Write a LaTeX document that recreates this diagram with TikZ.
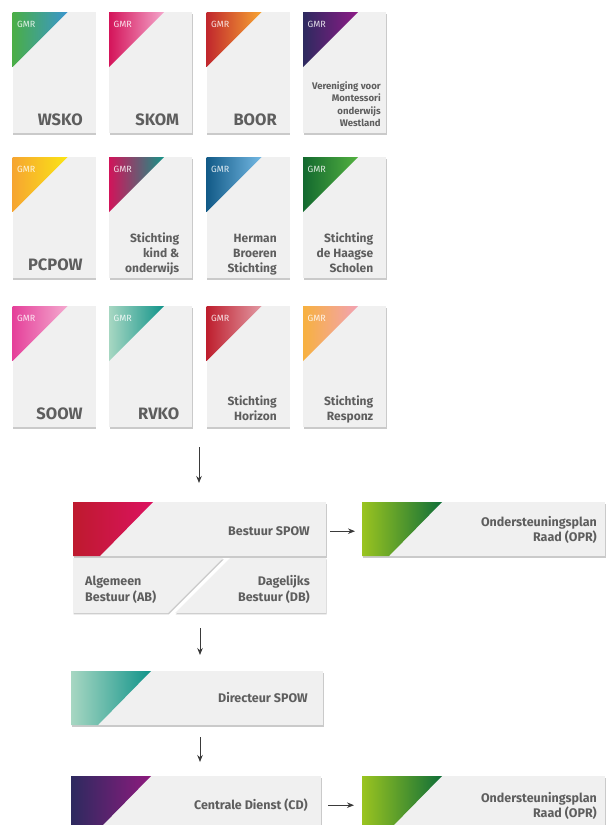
\documentclass[tikz,border=0pt]{standalone}
\usepackage{fontspec}
\setmainfont{Fira Sans}
\usetikzlibrary{shadows,arrows.meta}
\definecolor{boxfill}{HTML}{F0F0F0}
\definecolor{txt}{HTML}{5E5E5E}
\definecolor{arrowc}{HTML}{3A3A3A}
\definecolor{wskoA}{HTML}{4AAE46}\definecolor{wskoB}{HTML}{3A96CF}
\definecolor{skomA}{HTML}{D4145A}\definecolor{skomB}{HTML}{F4A6CB}
\definecolor{boorA}{HTML}{C1272D}\definecolor{boorB}{HTML}{F7A532}
\definecolor{vmowA}{HTML}{2D2A5F}\definecolor{vmowB}{HTML}{8E1A87}
\definecolor{pcpowA}{HTML}{F6A531}\definecolor{pcpowB}{HTML}{FBE514}
\definecolor{kindA}{HTML}{D1145A}\definecolor{kindB}{HTML}{149487}
\definecolor{hbsA}{HTML}{125A87}\definecolor{hbsB}{HTML}{74B9E4}
\definecolor{hsA}{HTML}{13692F}\definecolor{hsB}{HTML}{53B140}
\definecolor{soowA}{HTML}{E5409A}\definecolor{soowB}{HTML}{F4AACF}
\definecolor{rvkoA}{HTML}{A7D7C2}\definecolor{rvkoB}{HTML}{10938A}
\definecolor{horA}{HTML}{BE1E2D}\definecolor{horB}{HTML}{E29AA4}
\definecolor{resA}{HTML}{F7B13F}\definecolor{resB}{HTML}{F2A2B4}
\definecolor{bestA}{HTML}{BE1A2E}\definecolor{bestB}{HTML}{DC1260}
\definecolor{oprA}{HTML}{9AC420}\definecolor{oprB}{HTML}{0F6E38}
\definecolor{cdA}{HTML}{2D2A5F}\definecolor{cdB}{HTML}{8E1A7E}
\tikzset{
  myshadow/.style={drop shadow={shadow xshift=0.6pt, shadow yshift=-1.4pt, opacity=0.35, fill=black!60}},
  card/.style={fill=boxfill, minimum width=83pt, minimum height=121pt, anchor=north west, inner sep=0pt, myshadow},
  bigbox/.style={fill=boxfill, minimum height=54pt, anchor=north west, inner sep=0pt, myshadow},
  gmr/.style={anchor=west, inner sep=0pt, text=white, text opacity=0.85, font=\fontsize{9}{10}\selectfont},
  bigname/.style={anchor=base east, inner sep=0pt, text=txt, font=\bfseries\fontsize{16.5}{20}\selectfont},
  smalltxt/.style={anchor=south east, inner sep=0pt, text depth=0pt, align=right, text=txt, font=\bfseries\fontsize{12}{15}\selectfont},
  tinytxt/.style={anchor=south east, inner sep=0pt, text depth=0pt, align=right, text=txt, font=\bfseries\fontsize{9.6}{12.4}\selectfont},
  boxtext/.style={inner sep=0pt, text depth=0pt, text=txt, font=\bfseries\fontsize{12.5}{15.5}\selectfont},
  arr/.style={draw=arrowc, line width=0.9pt, -{Stealth[length=7pt,width=5.5pt]}}
}
\newcommand\gmrcard[5]{%
  \node[card] (#1) at (#2,#3) {};
  \shade[left color=#4, right color=#5] (#1.north west) -- ++(55,0) -- ++(-55,55) -- cycle;
  \node[gmr] (#1-gmr) at ([shift={(4.5,12)}]#1.north west) {GMR};
}
\newcommand\trap[4]{% node, colL, colR, height
  \shade[left color=#2, right color=#3] (#1.north west) -- ++(80,0) -- ++(-53,#4) -- ++(-27,0) -- cycle;
}
\begin{document}
\begin{tikzpicture}[x=1pt,y=-1pt]
\useasboundingbox (0,0) rectangle (607,825);
\clip (0,0) rectangle (607,825);

% ---------- row 1
\gmrcard{c1}{12.5}{12}{wskoA}{wskoB}
\gmrcard{c2}{109}{12}{skomA}{skomB}
\gmrcard{c3}{206.5}{12}{boorA}{boorB}
\gmrcard{c4}{303}{12}{vmowA}{vmowB}
% ---------- row 2
\gmrcard{c5}{12.5}{157}{pcpowA}{pcpowB}
\gmrcard{c6}{109}{157}{kindA}{kindB}
\gmrcard{c7}{206.5}{157}{hbsA}{hbsB}
\gmrcard{c8}{303}{157}{hsA}{hsB}
% ---------- row 3
\gmrcard{c9}{12.5}{306}{soowA}{soowB}
\gmrcard{c10}{109}{306}{rvkoA}{rvkoB}
\gmrcard{c11}{206.5}{306}{horA}{horB}
\gmrcard{c12}{303}{306}{resA}{resB}

% card texts
\node[bigname] (t1) at ([shift={(-13,-8)}]c1.south east) {WSKO};
\node[bigname] (t2) at ([shift={(-13,-8)}]c2.south east) {SKOM};
\node[bigname] (t3) at ([shift={(-13,-8)}]c3.south east) {BOOR};
\node[tinytxt] (t4) at ([shift={(-5.5,-6.5)}]c4.south east) {Vereniging voor\\Montessori\\onderwijs\\Westland};
\node[bigname] (t5) at ([shift={(-13,-8)}]c5.south east) {PCPOW};
\node[smalltxt] (t6) at ([shift={(-13,-6)}]c6.south east) {Stichting\\kind \&\\onderwijs};
\node[smalltxt] (t7) at ([shift={(-13,-6)}]c7.south east) {Herman\\Broeren\\Stichting};
\node[smalltxt] (t8) at ([shift={(-13,-6)}]c8.south east) {Stichting\\de Haagse\\Scholen};
\node[bigname] (t9) at ([shift={(-13,-8)}]c9.south east) {SOOW};
\node[bigname] (t10) at ([shift={(-13,-8)}]c10.south east) {RVKO};
\node[smalltxt] (t11) at ([shift={(-13,-7)}]c11.south east) {Stichting\\Horizon};
\node[smalltxt] (t12) at ([shift={(-13,-7)}]c12.south east) {Stichting\\Responz};

% ---------- Bestuur SPOW
\node[bigbox, minimum width=253pt] (bestuur) at (73,502) {};
\trap{bestuur}{bestA}{bestB}{54}
\node[boxtext, anchor=base east] (bestuur-t) at (310,535.5) {Bestuur SPOW};

\fill[boxfill, myshadow] (73,558) -- (223,558) -- (168,613) -- (73,613) -- cycle;
\fill[boxfill, myshadow] (230,558) -- (326,558) -- (326,613) -- (175,613) -- cycle;
\node[boxtext, anchor=south west, align=left] (ab) at (85,601.5) {Algemeen\\Bestuur (AB)};
\node[boxtext, anchor=south east, align=right] (db) at (310,601.5) {Dagelijks\\Bestuur (DB)};

% ---------- OPR 1
\node[bigbox, minimum width=243pt] (opr1) at (362,502) {};
\trap{opr1}{oprA}{oprB}{54}
\node[boxtext, anchor=south east, align=right] (opr1-t) at (597,542) {Ondersteuningsplan\\Raad (OPR)};

% ---------- Directeur
\node[bigbox, minimum width=252pt] (dir) at (71,671) {};
\trap{dir}{rvkoA}{rvkoB}{54}
\node[boxtext, anchor=base east] (dir-t) at (308,702.5) {Directeur SPOW};

% ---------- Centrale Dienst
\node[bigbox, minimum width=250pt] (cd) at (71,776) {};
\trap{cd}{cdA}{cdB}{54}
\node[boxtext, anchor=base east] (cd-t) at (308,809.5) {Centrale Dienst (CD)};

% ---------- OPR 2
\node[bigbox, minimum width=243pt] (opr2) at (362,776) {};
\trap{opr2}{oprA}{oprB}{54}
\node[boxtext, anchor=south east, align=right] (opr2-t) at (597,818) {Ondersteuningsplan\\Raad (OPR)};

% ---------- arrows
\coordinate (a1s) at (199,447);
\coordinate (a1e) at (199,483);
\draw[arr] (a1s) -- (a1e);
\coordinate (a2s) at (200,628);
\coordinate (a2e) at (200,655);
\draw[arr] (a2s) -- (a2e);
\coordinate (a3s) at (200,737);
\coordinate (a3e) at (200,762);
\draw[arr] (a3s) -- (a3e);
\draw[arr] ([shift={(4,2)}]bestuur.east) -- ([shift={(-7,2)}]opr1.west);
\draw[arr] ([shift={(7,2)}]cd.east) -- ([shift={(-8,2)}]opr2.west);
\end{tikzpicture}
\end{document}
